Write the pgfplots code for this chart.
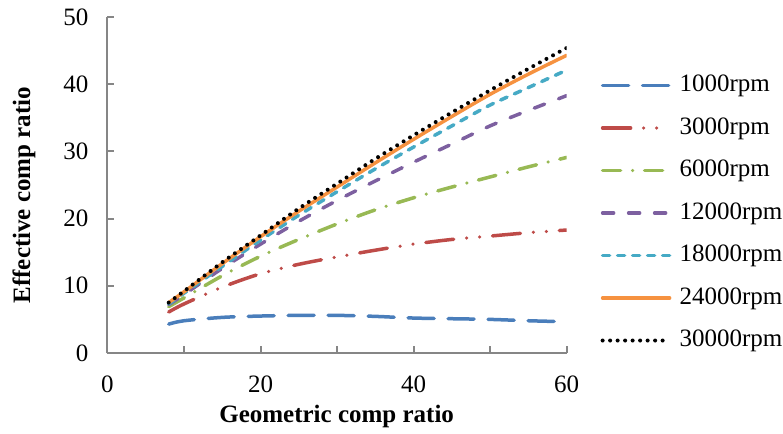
\documentclass[border=0pt]{standalone}
\usepackage{pgfplots}
\pgfplotsset{compat=1.18}
\usepackage{fontspec}
\setmainfont{Liberation Serif}
\definecolor{axisgray}{HTML}{868686}
\definecolor{cA}{HTML}{4A7EBB}
\definecolor{cB}{HTML}{BE4B48}
\definecolor{cC}{HTML}{98B954}
\definecolor{cD}{HTML}{7D60A0}
\definecolor{cE}{HTML}{46AAC5}
\definecolor{cF}{HTML}{F69240}
\begin{document}
\begin{tikzpicture}
\useasboundingbox (-53.75pt,-40.5pt) rectangle (337.75pt,176.5pt);
\begin{axis}[
  at={(0,0)}, anchor=south west,
  scale only axis, width=229.6pt, height=168pt,
  xmin=0, xmax=60, ymin=0, ymax=50,
  axis x line=bottom, axis y line=left,
  axis line style={-, draw=axisgray, line width=1pt},
  xtick={0,20,40,60}, minor xtick={10,30,50}, ytick={0,10,...,50},
  tick align=inside, major tick length=3.5pt, minor tick length=3.5pt,
  tick style={draw=axisgray, line width=1pt},
  /pgf/number format/assume math mode=true,
  tick label style={font=\fontsize{12.5}{15}\selectfont, text=black},
  yticklabel style={xshift=-6pt},
  xticklabel style={yshift=-8pt},
  xlabel={Geometric comp ratio},
  ylabel={Effective comp ratio},
  label style={font=\fontsize{12.5}{15}\selectfont\bfseries},
  xlabel style={at={(axis description cs:0.499,-0.19)}, anchor=center},
  ylabel style={at={(axis description cs:-0.182,0.47)}, anchor=center},
  legend style={at={(1.073,0.833)}, anchor=north west, draw=none, fill=none,
    inner sep=0pt, font=\fontsize{12.5}{15}\selectfont,
    nodes={inner sep=0pt, text height=9pt, text depth=3pt},
    row sep=9.25pt, column sep=4pt},
  legend cell align=left,
  legend image code/.code={\draw[#1] (0pt,0pt) -- (33.5pt,0pt);},
  every axis plot/.append style={line width=1.75pt, line cap=round, smooth},
]
\addplot[cA, dash pattern=on 13pt off 7pt] coordinates {
(8,4.3) (10,4.8) (15,5.3) (20,5.5) (25,5.6) (30,5.6) (35,5.45) (40,5.2) (45,5.1) (50,5.0) (55,4.8) (60,4.65)};
\addlegendentry{1000rpm}
\addplot[cB, dash pattern=on 14pt off 6.5pt on 0pt off 6.5pt on 0pt off 6.5pt] coordinates {
(8,6.1) (10,7.3) (15,9.8) (20,11.8) (25,13.2) (30,14.3) (35,15.3) (40,16.2) (45,16.9) (50,17.4) (55,17.9) (60,18.3)};
\addlegendentry{3000rpm}
\addplot[cC, dash pattern=on 9pt off 6pt on 0pt off 6pt] coordinates {
(8,6.9) (10,8.2) (15,11.5) (20,14.4) (25,16.9) (30,19.2) (35,21.3) (40,23.1) (45,24.7) (50,26.2) (55,27.7) (60,29.1)};
\addlegendentry{6000rpm}
\addplot[cD, dash pattern=on 5.5pt off 7.5pt] coordinates {
(8,7.2) (10,8.7) (15,12.6) (20,16.2) (25,19.6) (30,22.7) (35,25.6) (40,28.4) (45,31.1) (50,33.8) (55,36.1) (60,38.3)};
\addlegendentry{12000rpm}
\addplot[cE, dash pattern=on 3.5pt off 4pt] coordinates {
(8,7.3) (10,8.9) (15,12.9) (20,16.8) (25,20.5) (30,24.0) (35,27.4) (40,30.65) (45,33.8) (50,36.9) (55,39.5) (60,42.1)};
\addlegendentry{18000rpm}
\addplot[cF] coordinates {
(8,7.5) (10,9.1) (15,13.3) (20,17.3) (25,21.1) (30,24.7) (35,28.3) (40,31.8) (45,35.2) (50,38.5) (55,41.5) (60,44.3)};
\addlegendentry{24000rpm}
\addplot[black, line width=2pt, dash pattern=on 0pt off 3.75pt] coordinates {
(8,7.5) (10,9.2) (15,13.5) (20,17.5) (25,21.5) (30,25.2) (35,28.9) (40,32.4) (45,35.8) (50,39.1) (55,42.3) (60,45.4)};
\addlegendentry{30000rpm}
\end{axis}
\end{tikzpicture}
\end{document}
